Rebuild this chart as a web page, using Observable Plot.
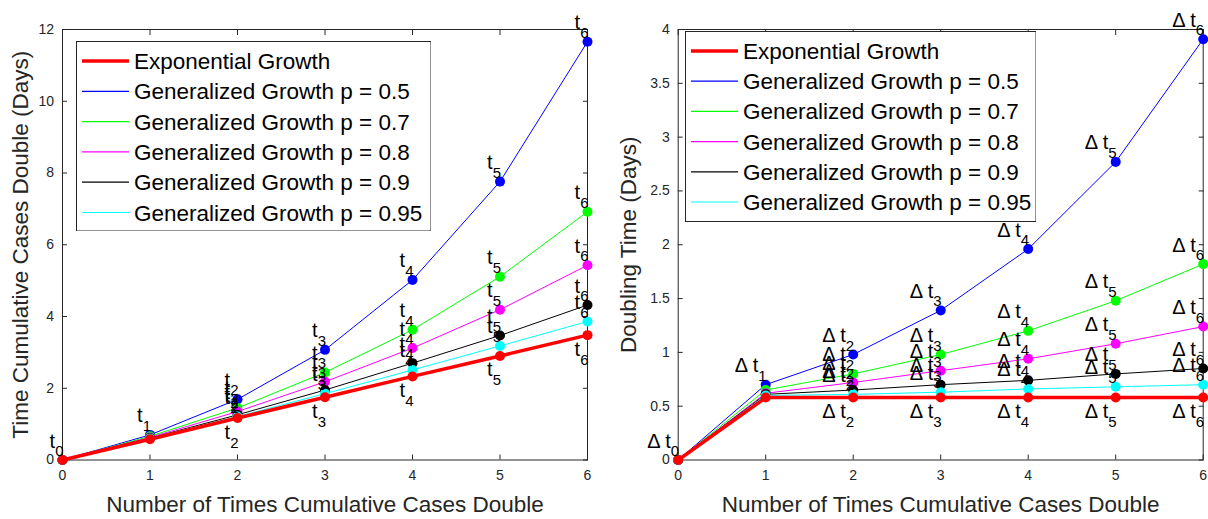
<!DOCTYPE html>
<html>
<head>
<meta charset="utf-8">
<script src="https://cdn.jsdelivr.net/npm/d3@7"></script>
<script src="https://cdn.jsdelivr.net/npm/@observablehq/plot@0.6"></script>
<style>
  html, body { margin: 0; padding: 0; background: #fff; }
  #wrap { position: relative; width: 1208px; height: 519px; display: flex; font-family: "Liberation Sans", Arial, sans-serif; }
  #wrap > svg.legend { position: absolute; }
</style>
</head>
<body>
<div id="wrap"></div>
<script>
// ---------- data ----------
const steps = [0, 1, 2, 3, 4, 5, 6];
const seriesNames = [
  "Exponential Growth",
  "Generalized Growth p = 0.5",
  "Generalized Growth p = 0.7",
  "Generalized Growth p = 0.8",
  "Generalized Growth p = 0.9",
  "Generalized Growth p = 0.95"
];
const seriesColors = ["#ff0000", "#0000ff", "#00ff00", "#ff00ff", "#000000", "#00ffff"];

// Left panel: time at which cumulative cases have doubled k times (days)
const cumExp  = [0, 0.58, 1.17, 1.75, 2.33, 2.90, 3.48];
const cumP05  = [0, 0.70, 1.69, 3.07, 5.02, 7.76, 11.66];
const cumP07  = [0, 0.66, 1.45, 2.44, 3.63, 5.11, 6.92];
const cumP08  = [0, 0.63, 1.35, 2.18, 3.12, 4.19, 5.43];
const cumP09  = [0, 0.61, 1.26, 1.95, 2.70, 3.47, 4.32];
const cumP095 = [0, 0.60, 1.21, 1.85, 2.51, 3.18, 3.86];

// Right panel: doubling times (days)
const dblExp  = [0, 0.58, 0.58, 0.58, 0.58, 0.58, 0.58];
const dblP05  = [0, 0.70, 0.98, 1.39, 1.96, 2.77, 3.91];
const dblP07  = [0, 0.65, 0.80, 0.98, 1.20, 1.48, 1.82];
const dblP08  = [0, 0.62, 0.72, 0.83, 0.94, 1.08, 1.24];
const dblP09  = [0, 0.61, 0.65, 0.70, 0.74, 0.80, 0.85];
const dblP095 = [0, 0.60, 0.61, 0.63, 0.66, 0.68, 0.70];

const xTicks = [0, 1, 2, 3, 4, 5, 6];
const leftYTicks = [0, 2, 4, 6, 8, 10, 12];
const rightYTicks = [0, 0.5, 1, 1.5, 2, 2.5, 3, 3.5, 4];
const xTitle = "Number of Times Cumulative Cases Double";
const leftYTitle = "Time Cumulative Cases Double (Days)";
const rightYTitle = "Doubling Time (Days)";

// ---------- chart ----------
const AX = "#262626";
const FONT = "Liberation Sans, Arial, sans-serif";

function makeChart({values, yDomain, yTicks, mainLabel, yTitle, marginLeft, marginRight, yTitleDx}) {
  const series = seriesNames.map((name, i) => ({
    i, name, color: seriesColors[i],
    rows: steps.map((s, j) => ({step: s, value: values[i][j], si: i}))
  }));
  const marks = [];
  // axis tick labels
  marks.push(Plot.axisX(xTicks, {anchor: "bottom", tickSize: 0, tickPadding: 10.5, label: null, fill: AX, fontSize: 14}));
  marks.push(Plot.axisY(yTicks, {anchor: "left", tickSize: 0, tickPadding: 8.5, label: null, fill: AX, fontSize: 14, tickFormat: d => String(d)}));
  // inward ticks on all four sides
  marks.push(Plot.axisX(xTicks, {anchor: "bottom", tickSize: -5, fill: "none", stroke: AX, label: null}));
  marks.push(Plot.axisX(xTicks, {anchor: "top", tickSize: -5, fill: "none", stroke: AX, label: null}));
  marks.push(Plot.axisY(yTicks, {anchor: "left", tickSize: -5, fill: "none", stroke: AX, label: null}));
  marks.push(Plot.axisY(yTicks, {anchor: "right", tickSize: -5, fill: "none", stroke: AX, label: null}));
  marks.push(Plot.frame({stroke: AX, strokeWidth: 1}));
  // series: generalized first, exponential (red, thick) last
  const order = [1, 2, 3, 4, 5, 0];
  for (const i of order) {
    const s = series[i];
    marks.push(Plot.line(s.rows, {x: "step", y: "value", stroke: s.color, strokeWidth: i === 0 ? 3.5 : 1}));
    marks.push(Plot.dot(s.rows, {x: "step", y: "value", fill: s.color, r: 5}));
  }
  // point labels
  const above = [], below = [];
  for (const i of order) {
    for (const r of series[i].rows) {
      if (i === 0) { if (r.step >= 2) below.push(r); }
      else if (r.step >= 2 || i === 1) above.push(r);
    }
  }
  const lab = (data, dyMain, dySub) => [
    Plot.text(data, {x: "step", y: "value", text: () => mainLabel, textAnchor: "end", lineAnchor: "bottom", dx: -7.5, dy: dyMain, fontSize: 20, fill: "black"}),
    Plot.text(data, {x: "step", y: "value", text: d => String(d.step), textAnchor: "end", lineAnchor: "bottom", dx: 1, dy: dySub, fontSize: 15, fill: "black"})
  ];
  marks.push(...lab(above, -12.5, -4));
  marks.push(...lab(below, 20.5, 29.5));
  // axis titles
  marks.push(Plot.text([xTitle], {frameAnchor: "bottom", text: d => d, textAnchor: "middle", lineAnchor: "bottom", dy: 52, fontSize: 22.5, fill: AX}));
  marks.push(Plot.text([yTitle], {frameAnchor: "left", text: d => d, textAnchor: "middle", rotate: -90, lineAnchor: "bottom", dx: yTitleDx, fontSize: 22.5, fill: AX}));

  return Plot.plot({
    width: 604,
    height: 519,
    marginTop: 29,
    marginBottom: 59.5,
    marginLeft, marginRight,
    x: {domain: [0, 6]},
    y: {domain: yDomain},
    style: {fontFamily: FONT, fontSize: "14px", background: "white", overflow: "visible", color: AX},
    marks
  });
}

const wrap = document.getElementById("wrap");
wrap.appendChild(makeChart({
  values: [cumExp, cumP05, cumP07, cumP08, cumP09, cumP095],
  yDomain: [0, 12], yTicks: leftYTicks, mainLabel: "t", yTitle: leftYTitle,
  marginLeft: 62, marginRight: 17, yTitleDx: -35
}));
wrap.appendChild(makeChart({
  values: [dblExp, dblP05, dblP07, dblP08, dblP09, dblP095],
  yDomain: [0, 4], yTicks: rightYTicks, mainLabel: "\u0394 t", yTitle: rightYTitle,
  marginLeft: 73.7, marginRight: 5.3, yTitleDx: -42
}));

// ---------- legends ----------
function makeLegend(left, top, w, h, firstRow, rowStep) {
  const svg = d3.create("svg").attr("class", "legend")
    .attr("width", w + 2).attr("height", h + 2)
    .style("left", (left - 1) + "px").style("top", (top - 1) + "px");
  svg.append("rect").attr("x", 1.5).attr("y", 1.5).attr("width", w).attr("height", h)
    .attr("fill", "white").attr("stroke", AX).attr("stroke-width", 1);
  seriesNames.forEach((name, i) => {
    const cy = 1 + firstRow + i * rowStep;
    svg.append("line").attr("x1", 7).attr("x2", 54).attr("y1", cy).attr("y2", cy)
      .attr("stroke", seriesColors[i]).attr("stroke-width", i === 0 ? 3.5 : 1.2);
    svg.append("text").attr("x", 59).attr("y", cy + 8)
      .attr("font-family", FONT).attr("font-size", 22.5).attr("fill", "black").text(name);
  });
  wrap.appendChild(svg.node());
}
makeLegend(75.5, 40.7, 354.5, 189.5, 20, 30.3);
makeLegend(684.5, 31, 350.5, 190, 20, 30.2);
</script>
</body>
</html>
